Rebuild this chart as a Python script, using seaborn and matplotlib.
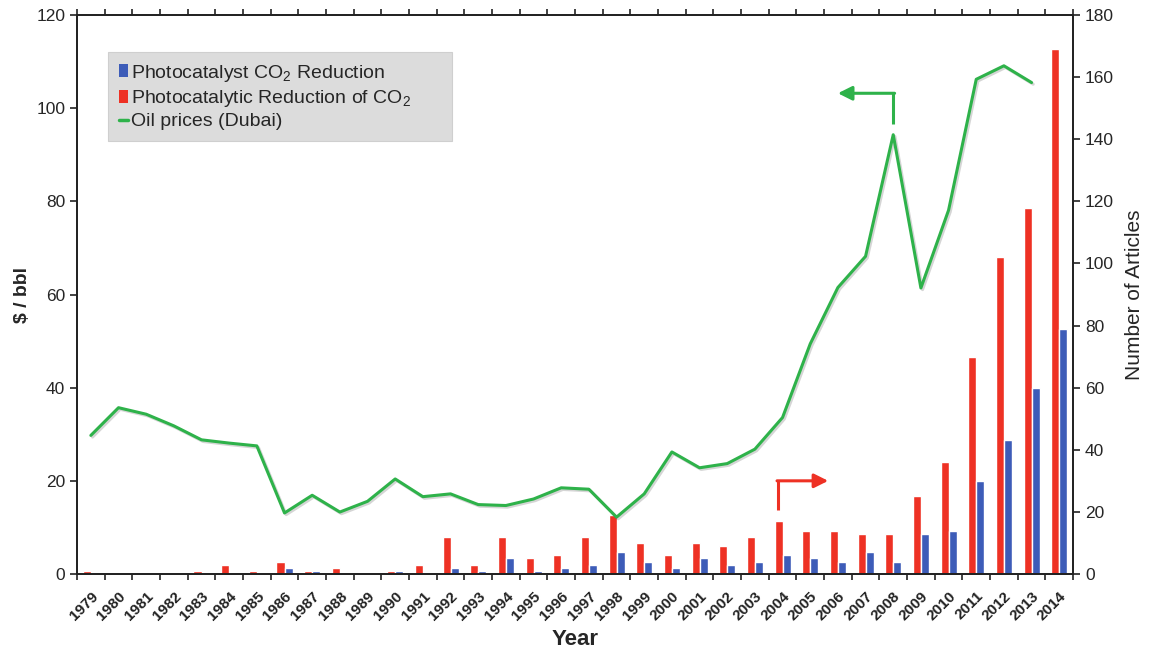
import numpy as np
import pandas as pd
import matplotlib
matplotlib.use("Agg")
import matplotlib.pyplot as plt
import matplotlib.patheffects as pe
from matplotlib.patches import Patch
from matplotlib.lines import Line2D
import seaborn as sns

years = list(range(1979, 2015))
year_labels = [str(y) for y in years]
red_articles = [1, 0, 0, 0, 1, 3, 1, 4, 1, 2, 0, 1, 3, 12, 3, 12, 5, 6, 12, 19,
                10, 6, 10, 9, 12, 17, 14, 14, 13, 13, 25, 36, 70, 102, 118, 169]
blue_articles = [0, 0, 0, 0, 0, 0, 0, 2, 1, 0, 0, 1, 0, 2, 1, 5, 1, 2, 3, 7,
                 4, 2, 5, 3, 4, 6, 5, 4, 7, 4, 13, 14, 30, 43, 60, 79]
oil_prices = [29.75, 35.7, 34.3, 31.8, 28.8, 28.1, 27.5, 13.1, 16.9, 13.3, 15.6,
              20.4, 16.6, 17.2, 14.9, 14.7, 16.1, 18.5, 18.2, 12.2, 17.2, 26.2,
              22.8, 23.7, 26.8, 33.6, 49.4, 61.5, 68.2, 94.3, 61.4, 78.1, 106.2,
              109.1, 105.5, np.nan]

name_blue = "Photocatalyst CO$_2$ Reduction"
name_red = "Photocatalytic Reduction of CO$_2$"
name_oil = "Oil prices (Dubai)"

RED = "#ee3124"
BLUE = "#3d5cb8"
GREEN = "#2eb24a"

sns.set_theme(style="white")
plt.rcParams['font.family'] = ['Liberation Sans', 'DejaVu Sans']
plt.rcParams['mathtext.fontset'] = 'custom'
plt.rcParams['mathtext.rm'] = 'Liberation Sans'
plt.rcParams['mathtext.it'] = 'Liberation Sans:italic'

bars = pd.DataFrame({
    "Year": year_labels * 2,
    "Articles": red_articles + blue_articles,
    "Series": [name_red] * len(years) + [name_blue] * len(years),
})
oil = pd.DataFrame({"pos": np.arange(len(years)), "Price": oil_prices})

fig = plt.figure(figsize=(11.51, 6.53), dpi=100)
ax = fig.add_axes([0.0669, 0.121, 0.8654, 0.856])
ax2 = ax.twinx()

sns.barplot(data=bars, x="Year", y="Articles", hue="Series",
            hue_order=[name_red, name_blue], palette=[RED, BLUE],
            width=0.58, ax=ax2, legend=False, saturation=1)

sns.lineplot(data=oil, x="pos", y="Price", ax=ax, color=GREEN, lw=2.2,
             path_effects=[pe.SimpleLineShadow(offset=(1.2, -1.2), alpha=0.18),
                           pe.Normal()])

ax.set_zorder(ax2.get_zorder() + 1)
ax.patch.set_visible(False)

n = len(years)
ax.set_xlim(-0.5, n - 0.5)
ax2.set_xlim(-0.5, n - 0.5)
ax.set_ylim(0, 120)
ax2.set_ylim(0, 180)
ax.set_yticks(np.arange(0, 121, 20))
ax2.set_yticks(np.arange(0, 181, 20))

ax.set_xticks(np.arange(n))
ax.set_xticklabels(year_labels, rotation=45, ha='right', rotation_mode='anchor',
                   fontsize=11, fontweight='bold', color='#222222')
ax.set_xticks(np.arange(n + 1) - 0.5, minor=True)
ax.tick_params(axis='x', which='major', length=0, pad=11)
ax.tick_params(axis='x', which='minor', length=4, width=1.2, direction='out',
               top=True, bottom=True, color='#222222')
ax.tick_params(axis='y', which='major', length=5, width=1.2, direction='out',
               labelsize=12.5, color='#222222', left=True)
ax2.tick_params(axis='y', which='major', length=5, width=1.2, direction='out',
                labelsize=12.5, color='#222222', right=True)
ax2.set_xlabel("")

for a in (ax, ax2):
    for s in a.spines.values():
        s.set_color('#222222')
        s.set_linewidth(1.3)

ax.set_xlabel("Year", fontsize=16, fontweight='bold', labelpad=4)
ax.set_ylabel("$ / bbl", fontsize=14, fontweight='bold', labelpad=4)
ax2.set_ylabel("Number of Articles", fontsize=15, labelpad=8, rotation=90)

# direction arrows
ax.plot([29, 29], [96.5, 103.2], color=GREEN, lw=2.2, solid_capstyle='butt')
ax.annotate("", xy=(27.0, 103.2), xytext=(29.05, 103.2),
            arrowprops=dict(arrowstyle='-|>,head_length=0.7,head_width=0.35',
                            color=GREEN, lw=2.2, shrinkA=0, shrinkB=0))
ax2.plot([24.85, 24.85], [20.5, 30], color=RED, lw=2.2, solid_capstyle='butt')
ax2.annotate("", xy=(26.65, 30), xytext=(24.8, 30),
             arrowprops=dict(arrowstyle='-|>,head_length=0.7,head_width=0.35',
                             color=RED, lw=2.2, shrinkA=0, shrinkB=0))

handles = [Patch(facecolor=BLUE, edgecolor='none'),
           Patch(facecolor=RED, edgecolor='none'),
           Line2D([0], [0], color=GREEN, lw=2.5)]
leg = ax.legend(handles, [name_blue, name_red, name_oil],
                loc='upper left', bbox_to_anchor=(0.031, 0.934, 0.345, 0.0),
                mode='expand',
                fontsize=14, frameon=True, fancybox=False, shadow=False,
                facecolor='#dcdcdc', edgecolor='#cfcfcf', framealpha=1,
                handlelength=0.5, handleheight=0.65, handletextpad=0.12,
                labelspacing=0.22, borderpad=0.55, borderaxespad=0)
leg.get_frame().set_linewidth(0.8)
leg.set_zorder(10)

fig.savefig("out.png", dpi=100)
